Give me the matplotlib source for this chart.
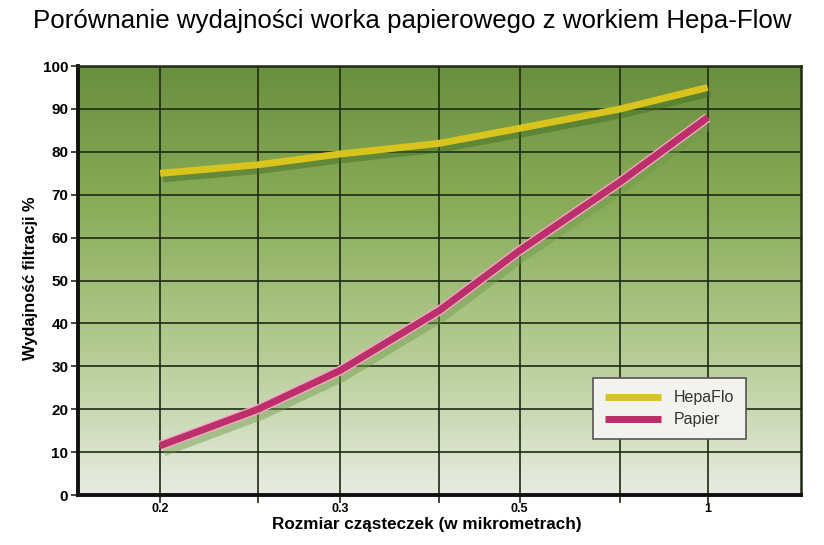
import numpy as np
import matplotlib
matplotlib.use("Agg")
import matplotlib.pyplot as plt
import matplotlib.patheffects as pe
from matplotlib.colors import LinearSegmentedColormap

plt.rcParams['font.family'] = ['Liberation Sans', 'DejaVu Sans']

# dane
tick_sizes = [0.2, 0.3, 0.5, 1]
tick_labels = ['0.2', '0.3', '0.5', '1']
sizes = [0.2, 0.25, 0.3, 0.4, 0.5, 0.75, 1]
hepaflo = [75, 77, 79.5, 82, 85.5, 90, 95]
papier = [11.5, 20, 29, 43, 57, 73, 88]

# os X jest kategoryczna (prawie rownomierne odstepy miedzy 0.2, 0.3, 0.5, 1)
tick_pos = np.array([0, 0.985, 1.97, 3])
pos = np.interp(sizes, tick_sizes, tick_pos)
grid_pos = np.array([0.536, 1.53, 2.52])
pos[1], pos[3], pos[5] = grid_pos

fig = plt.figure(figsize=(8.24, 5.45), dpi=100)
ax = fig.add_axes([0.0947, 0.0917, 0.877, 0.787])

# tlo - gradient zielony
cmap = LinearSegmentedColormap.from_list('bg', ['#e8ece2', '#b4cc93', '#8aad5a', '#6a8f3c'])
grad = np.linspace(0, 1, 256).reshape(-1, 1)
ax.imshow(grad, cmap=cmap, aspect='auto', origin='lower',
          extent=[-0.45, 3.51, 0, 100], zorder=0)

ax.set_xlim(-0.45, 3.51)
ax.set_ylim(0, 100)

# siatka
for y in range(10, 100, 10):
    ax.axhline(y, color='#1e2a14', lw=1.2, zorder=1)
for x in list(tick_pos) + list(grid_pos):
    ax.axvline(x, color='#1e2a14', lw=1.2, zorder=1)

l1, = ax.plot(pos, hepaflo, color='#d9c41e', lw=5, solid_capstyle='butt',
              solid_joinstyle='round', zorder=3,
              path_effects=[pe.SimpleLineShadow(offset=(2, -4), shadow_color='#3f6a20', alpha=0.45),
                            pe.Normal()])
l2, = ax.plot(pos, papier, color='#bc2f6a', lw=5, solid_capstyle='butt',
              solid_joinstyle='round', zorder=3,
              path_effects=[pe.SimpleLineShadow(offset=(3, -5), shadow_color='#6f9a4a', alpha=0.45),
                            pe.Stroke(linewidth=7, foreground='#f0a8c4'),
                            pe.Normal()])

ax.set_xticks(tick_pos)
ax.set_xticks(grid_pos, minor=True)
ax.set_xticklabels(tick_labels, fontsize=9, fontweight='bold')
ax.set_yticks(range(0, 101, 10))
ax.set_yticklabels([str(v) for v in range(0, 101, 10)], fontsize=11, fontweight='bold')
ax.tick_params(axis='x', which='both', length=6, width=1.2, direction='out', pad=0,
               colors='#1e2a14', labelcolor='black')
ax.tick_params(axis='y', length=5, width=1.2, direction='out', pad=2, colors='#1e2a14',
               labelcolor='black')

for s in ['left', 'bottom']:
    ax.spines[s].set_linewidth(2.8)
    ax.spines[s].set_color('#111111')
for s in ['top', 'right']:
    ax.spines[s].set_linewidth(1.8)
    ax.spines[s].set_color('#1e2a14')

ax.set_xlabel('Rozmiar cząsteczek (w mikrometrach)', fontsize=12.3, fontweight='bold', va='center')
ax.xaxis.set_label_coords(0.483, -0.069)
ax.set_ylabel('Wydajność filtracji %', fontsize=11.8, fontweight='bold', va='center')
ax.yaxis.set_label_coords(-0.066, 0.505)

fig.text(0.5, 0.961, 'Porównanie wydajności worka papierowego z workiem Hepa-Flow',
         ha='center', va='center', fontsize=18.6)

leg = ax.legend([l1, l2], ['HepaFlo', 'Papier'], loc='lower right',
                bbox_to_anchor=(0.925, 0.13), fontsize=11.5, frameon=True, fancybox=False,
                handlelength=3.5, handletextpad=0.8, borderpad=0.75, labelspacing=0.45,
                borderaxespad=0)
leg.get_frame().set_facecolor('#f2f3ef')
leg.get_frame().set_edgecolor('#555555')
leg.get_frame().set_linewidth(1.2)
leg.get_frame().set_alpha(1)
for t in leg.get_texts():
    t.set_color('#333333')
for h in leg.legend_handles:
    h.set_path_effects([])
    h.set_linewidth(5)

fig.savefig('out.png', dpi=100)
